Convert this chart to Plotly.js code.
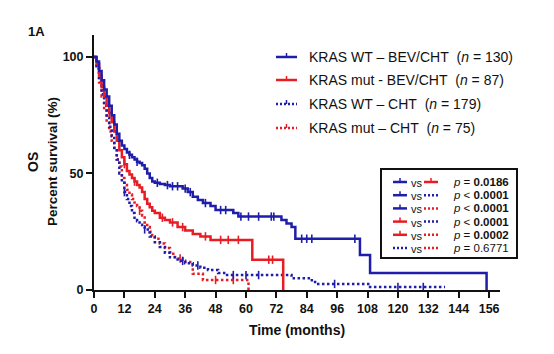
<!DOCTYPE html>
<html>
<head>
<meta charset="utf-8">
<script src="https://cdn.plot.ly/plotly-3.0.1.min.js"></script>
<style>html,body{margin:0;padding:0;background:#fff;}#chart{width:554px;height:354px;}</style>
</head>
<body>
<div id="chart"></div>
<script>
// ---- Data ----
const xTicks = [0, 12, 24, 36, 48, 60, 72, 84, 96, 108, 120, 132, 144, 156];
const yTicks = [0, 50, 100];

const seriesNames = [
  "KRAS WT \u2013 BEV/CHT\u00a0\u00a0(<i>n</i> = 130)",
  "KRAS mut - BEV/CHT\u00a0\u00a0(<i>n</i> = 87)",
  "KRAS WT \u2013 CHT\u00a0\u00a0(<i>n</i> = 179)",
  "KRAS mut \u2013 CHT\u00a0\u00a0(<i>n</i> = 75)"
];

// KRAS WT - BEV/CHT
const wtBevT = [0,1,2,3,4,5,6,7,8,9,10,11,12,13,14,15,16,17,18,19,20,21,22,23,24,26,28,30,35,37,39,41,43,46,48,55,57,74,76,78,79.5,105,109,155];
const wtBevS = [100,98,94,90,86,83,79,75,71,67,64,62,60.5,59,58,57,56,55,54.5,53.5,52,50,48,46.5,46,45.5,45,44.5,43.5,42,40,38.6,37.3,36,34.3,33,31.5,30,28.5,27,22,15,7.3,0];
const wtBevCens = [14,17,25,29,31,33,36,38,44,50,52,58,61,65,70,71,82,84,86,103];

// KRAS mut - BEV/CHT
const mutBevT = [0,1,2,3,4,5,6,7,8,9,10,11,12,13,14,15,16,17,18,19,20,21,22,23,24,26,28,30,33,36,39,42,46,62.5,74.7];
const mutBevS = [100,97,92,87,83,79,76,72,68,64,60,57,54,51,49.5,48,46.5,45,44,42,39,37,35.5,34,33,31,30,29,27,25.5,24,23,21.5,13,0];
const mutBevCens = [6,12,16,27,31,35,44,50,53,57,69,70.5];

// KRAS WT - CHT
const wtChtT = [0,1,2,3,4,5,6,7,8,9,10,11,12,13,14,15,16,17,18,19,20,22,24,26,28,30,33,36,39,42,45,49,52,78,86,88,109,138.6];
const wtChtS = [100,96,90,84,79,74,70,66,61,56,50,46,42,39,36,33,31,29.5,28,27,26,23,20.5,18.5,16,14,12.5,11.5,10.5,9.5,8.6,7.3,6.4,5,3.4,2.6,1.3,1.3];
const wtChtCens = [12,20,35,41,55,60,65,95,120,130];

// KRAS mut - CHT
const mutChtT = [0,1,2,3,4,5,6,7,8,9,10,11,12,13,14,15,16,17,18,19,20,21,22,23,24,26,28,30,32,35,38,39,43,61];
const mutChtS = [100,95,89,83,77,72,68,64,60,56,53,48,45,43,41,39,37.5,36,34,32,29,27,25,23.5,22,20,18,15.5,13.5,12,11,7,4.3,0];
const mutChtCens = [18,34,48,55];

const pLabels = [
  "<i>p</i> = <b>0.0186</b>",
  "<i>p</i> &lt; <b>0.0001</b>",
  "<i>p</i> &lt; <b>0.0001</b>",
  "<i>p</i> &lt; <b>0.0001</b>",
  "<i>p</i> = <b>0.0002</b>",
  "<i>p</i> = 0.6771"
];
// pairs of series compared (index into series)
const pPairs = [[0,1],[0,2],[0,3],[1,2],[1,3],[2,3]];

// ---- Styling ----
const BLUE = "#1e1eaa";
const RED = "#e81c24";
const FONT = "Arial, 'Liberation Sans', sans-serif";
const seriesColor = [BLUE, RED, BLUE, RED];
const seriesDotted = [false, false, true, true];

function stepAt(T, S, t) {
  let v = S[0];
  for (let i = 0; i < T.length; i++) if (T[i] <= t) v = S[i];
  return v;
}

const series = [
  {T: wtBevT, S: wtBevS, C: wtBevCens},
  {T: mutBevT, S: mutBevS, C: mutBevCens},
  {T: wtChtT, S: wtChtS, C: wtChtCens},
  {T: mutChtT, S: mutChtS, C: mutChtCens}
];

const traces = [];
const order = [3, 2, 1, 0];
order.forEach(i => {
  const s = series[i];
  traces.push({
    x: s.T, y: s.S, type: "scatter", mode: "lines", name: seriesNames[i],
    line: {shape: "hv", color: seriesColor[i], width: 2.5, dash: seriesDotted[i] ? "2.5px,2.5px" : "solid"},
    showlegend: false, hoverinfo: "skip"
  });
  traces.push({
    x: s.C, y: s.C.map(t => stepAt(s.T, s.S, t)), type: "scatter", mode: "markers",
    marker: {symbol: "line-ns-open", size: 6, color: seriesColor[i], line: {color: seriesColor[i], width: 1.6}},
    showlegend: false, hoverinfo: "skip"
  });
});

// ---- Pixel helpers for the legend / p-value box ----
const L = 94, R = 54, T = 35, B = 64, W = 554, H = 354;
const PW = W - L - R, PH = H - T - B;
const px = v => (v - L) / PW;
const py = v => (H - B - v) / PH;

const shapes = [];
const annotations = [];

function sample(i, x0, x1, y, tick) {
  shapes.push({type: "line", xref: "paper", yref: "paper", x0: px(x0), x1: px(x1), y0: py(y), y1: py(y),
    line: {color: seriesColor[i], width: 2.5, dash: seriesDotted[i] ? "2px,2px" : "solid"}});
  if (tick) {
    const xm = (x0 + x1) / 2;
    shapes.push({type: "line", xref: "paper", yref: "paper", x0: px(xm), x1: px(xm), y0: py(y), y1: py(y - 4),
      line: {color: seriesColor[i], width: 1.5}});
  }
}

// main legend
const legY = [57, 80, 104, 128];
seriesNames.forEach((name, i) => {
  sample(i, 276, 297, legY[i], true);
  annotations.push({xref: "paper", yref: "paper", x: px(307), y: py(legY[i]), xanchor: "left", yanchor: "middle",
    text: name, showarrow: false, font: {family: FONT, size: 14, color: "#111"}});
});

// p-value box
shapes.push({type: "rect", xref: "paper", yref: "paper", x0: px(381), x1: px(517), y0: py(169), y1: py(258),
  line: {color: "#111", width: 2}, fillcolor: "rgba(0,0,0,0)"});
pPairs.forEach((pr, k) => {
  const y = 182 + k * 13.2;
  sample(pr[0], 393, 407, y, !seriesDotted[pr[0]]);
  annotations.push({xref: "paper", yref: "paper", x: px(409), y: py(y + 1), xanchor: "left", yanchor: "middle",
    text: "vs", showarrow: false, font: {family: FONT, size: 11, color: "#111"}});
  sample(pr[1], 424, 438, y, !seriesDotted[pr[1]]);
  annotations.push({xref: "paper", yref: "paper", x: px(451), y: py(y), xanchor: "left", yanchor: "middle",
    text: pLabels[k], showarrow: false, font: {family: FONT, size: 11.5, color: "#111"}});
});

// titles
annotations.push({xref: "paper", yref: "paper", x: px(26), y: py(31), xanchor: "left", yanchor: "middle",
  text: "<b>1A</b>", showarrow: false, font: {family: FONT, size: 13, color: "#111"}});
annotations.push({xref: "paper", yref: "paper", x: px(33), y: py(162), xanchor: "center", yanchor: "middle",
  text: "<b>OS</b>", textangle: -90, showarrow: false, font: {family: FONT, size: 14, color: "#111"}});
annotations.push({xref: "paper", yref: "paper", x: px(52), y: py(162), xanchor: "center", yanchor: "middle",
  text: "<b>Percent survival (%)</b>", textangle: -90, showarrow: false, font: {family: FONT, size: 13.5, color: "#111"}});

const layout = {
  width: W, height: H,
  margin: {l: L, r: R, t: T, b: B, pad: 0},
  paper_bgcolor: "#fff", plot_bgcolor: "#fff",
  font: {family: FONT, color: "#111"},
  showlegend: false,
  xaxis: {
    range: [0, 160.3], tickvals: xTicks, ticktext: xTicks.map(String),
    showgrid: false, zeroline: false, showline: true, linecolor: "#111", linewidth: 2,
    ticks: "outside", ticklen: 6, tickwidth: 2, tickcolor: "#111",
    tickfont: {family: FONT, size: 12.5, weight: "bold", color: "#111"},
    title: {text: "<b>Time (months)</b>", font: {family: FONT, size: 14, color: "#111"}, standoff: 10}
  },
  yaxis: {
    range: [0, 109.4], tickvals: yTicks, ticktext: yTicks.map(String),
    showgrid: false, zeroline: false, showline: true, linecolor: "#111", linewidth: 2,
    ticks: "outside", ticklen: 6, tickwidth: 2, tickcolor: "#111",
    tickfont: {family: FONT, size: 12.5, weight: "bold", color: "#111"}
  },
  shapes: shapes,
  annotations: annotations
};

Plotly.newPlot("chart", traces, layout, {staticPlot: true, displayModeBar: false});
</script>
</body>
</html>
